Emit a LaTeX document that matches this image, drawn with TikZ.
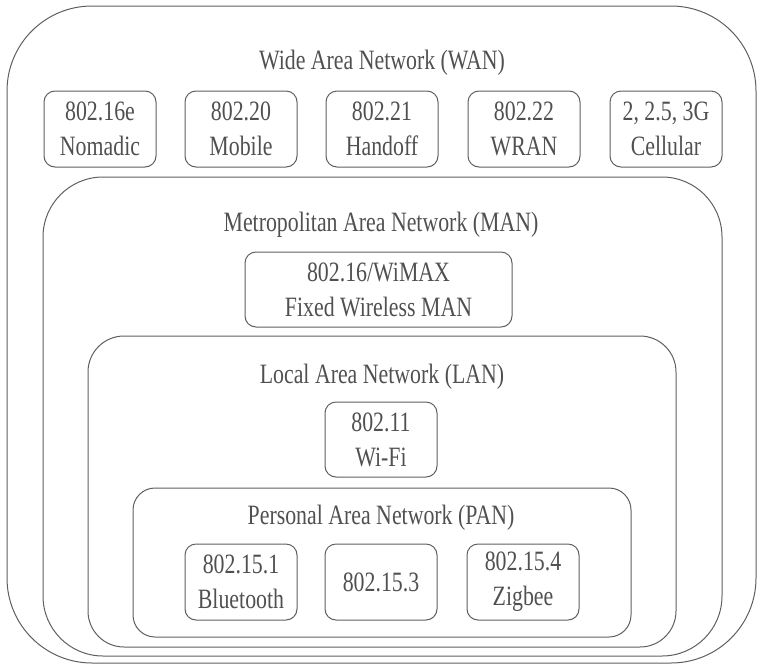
\documentclass[tikz,border=0pt]{standalone}
\usepackage{fontspec}
\setmainfont[FakeStretch=0.78]{Liberation Serif}
\definecolor{linecol}{RGB}{95,95,95}
\definecolor{textcol}{RGB}{80,80,80}
\newcommand\netfont{\fontsize{28}{35}\selectfont}
\begin{document}
\begin{tikzpicture}[x=1pt,y=-1pt,
  frame/.style={draw=linecol, line width=1pt, rectangle, inner sep=0pt},
  bigbox/.style={frame, rounded corners=#1},
  unit/.style={frame, rounded corners=11pt, minimum width=112pt, minimum height=76pt, align=center, text=textcol, font=\netfont},
  title/.style={text=textcol, font=\netfont, inner sep=0pt}]
\useasboundingbox (0,0) rectangle (758,665);
% nested areas
\node[bigbox=85pt, minimum width=749pt, minimum height=657pt] (wan) at (381.5,334.5) {};
\node[bigbox=60pt, minimum width=679pt, minimum height=479pt] (man) at (382.5,416.5) {};
\node[bigbox=36pt, minimum width=588pt, minimum height=311pt] (lan) at (382,491.5) {};
\node[bigbox=22pt, minimum width=498pt, minimum height=149pt] (pan) at (382,562.5) {};
% titles
\node[title] (wantitle) at (382,63) {Wide Area Network (WAN)};
\node[title] (mantitle) at (381,225) {Metropolitan Area Network (MAN)};
\node[title] (lantitle) at (382,377) {Local Area Network (LAN)};
\node[title] (pantitle) at (381,518) {Personal Area Network (PAN)};
% WAN units
\node[unit] (nomadic) at (100,129) {802.16e\\Nomadic};
\node[unit] (mobile) at (241,129) {802.20\\Mobile};
\node[unit] (handoff) at (382,129) {802.21\\Handoff};
\node[unit] (wran) at (524,129) {802.22\\WRAN};
\node[unit] (cellular) at (666,129) {2, 2.5, 3G\\Cellular};
% MAN unit
\node[unit, minimum width=267pt, minimum height=75pt] (wimax) at (378.5,289.5) {802.16/WiMAX\\Fixed Wireless MAN};
% LAN unit
\node[unit, minimum height=75pt] (wifi) at (381,439.5) {802.11\\Wi-Fi};
% PAN units
\node[unit] (bluetooth) at (241,582) {802.15.1\\Bluetooth};
\node[unit] (p153) at (381,582) {802.15.3};
\node[unit] (zigbee) at (523,582) {802.15.4\\Zigbee};
\end{tikzpicture}
\end{document}
